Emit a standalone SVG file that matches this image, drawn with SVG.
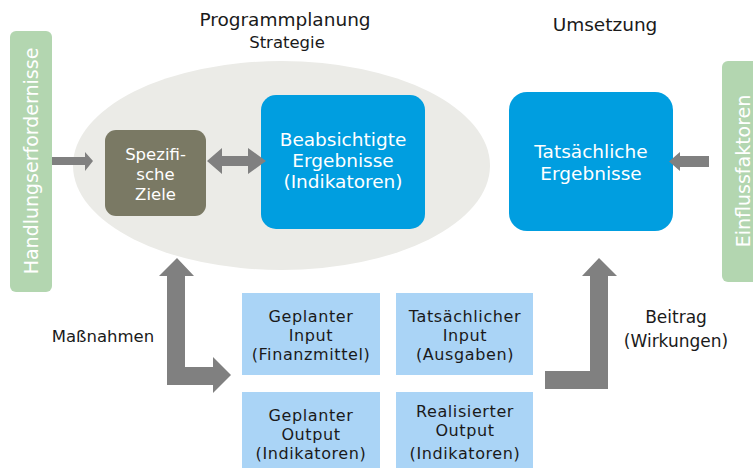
<svg xmlns="http://www.w3.org/2000/svg" width="753" height="468" viewBox="0 0 753 468">
<style>
text{font-family:"DejaVu Sans","Liberation Sans",sans-serif;text-anchor:middle}
.h{font-size:18.5px;fill:#1a1a1a}
.w{fill:#ffffff}
.d{fill:#1a1a1a;font-size:17px}
.bx{fill:#1a1a1a;font-size:16px;letter-spacing:0.6px}
.arr{fill:#808080}
.lb{fill:#aad4f6}
.bl{fill:#009ee0}
.gr{fill:#b3d6b0}
</style>
<rect width="753" height="468" fill="#ffffff"/>
<g id="titles">
<text class="h" x="285" y="26">Programmplanung</text>
<text class="h" x="287" y="48" style="font-size:16.5px">Strategie</text>
<text class="h" x="605" y="31">Umsetzung</text>
</g>
<g id="strategie">
<ellipse cx="281.5" cy="165.5" rx="208.5" ry="104.5" fill="#ebebe7"/>
</g>
<g id="handlungserfordernisse">
<rect class="gr" x="10" y="31" width="42" height="261" rx="6"/>
<text class="w" transform="translate(38,161) rotate(-90)" style="font-size:19px">Handlungserfordernisse</text>
</g>
<g id="einflussfaktoren">
<rect class="gr" x="722" y="61" width="45" height="221" rx="6"/>
<text class="w" transform="translate(750,171) rotate(-90)" style="font-size:19px">Einflussfaktoren</text>
</g>
<g id="spezifische-ziele">
<rect x="105" y="130" width="101" height="86" rx="11" fill="#7a7964"/>
<text class="w" style="font-size:16.5px"><tspan x="155.5" y="160">Spezifi-</tspan><tspan x="155.5" y="180">sche</tspan><tspan x="155.5" y="200">Ziele</tspan></text>
</g>
<g id="beabsichtigte-ergebnisse">
<rect class="bl" x="261" y="95" width="164" height="134" rx="15"/>
<text class="w" style="font-size:18.5px"><tspan x="343" y="146">Beabsichtigte</tspan><tspan x="343" y="167">Ergebnisse</tspan><tspan x="343" y="188">(Indikatoren)</tspan></text>
</g>
<g id="tatsaechliche-ergebnisse">
<rect class="bl" x="509" y="92" width="164" height="139" rx="18"/>
<text class="w" style="font-size:18.5px"><tspan x="591" y="158">Tatsächliche</tspan><tspan x="591" y="180">Ergebnisse</tspan></text>
</g>
<g id="geplanter-input">
<rect class="lb" x="242" y="293" width="138" height="82"/>
<text class="bx"><tspan x="311" y="322">Geplanter</tspan><tspan x="311" y="341">Input</tspan><tspan x="311" y="360">(Finanzmittel)</tspan></text>
</g>
<g id="tatsaechlicher-input">
<rect class="lb" x="396" y="293" width="137" height="82"/>
<text class="bx"><tspan x="465" y="322">Tatsächlicher</tspan><tspan x="465" y="341">Input</tspan><tspan x="465" y="360">(Ausgaben)</tspan></text>
</g>
<g id="geplanter-output">
<rect class="lb" x="242" y="392" width="138" height="80"/>
<text class="bx"><tspan x="311" y="421">Geplanter</tspan><tspan x="311" y="440">Output</tspan><tspan x="311" y="459">(Indikatoren)</tspan></text>
</g>
<g id="realisierter-output">
<rect class="lb" x="396" y="392" width="137" height="80"/>
<text class="bx"><tspan x="465" y="417">Realisierter</tspan><tspan x="465" y="436">Output</tspan><tspan x="465" y="459">(Indikatoren)</tspan></text>
</g>
<g id="connectors">
<polygon class="arr" points="52,157 85,157 85,152 93,161 85,171 85,165 52,165"/>
<polygon class="arr" points="207,161 222,148 222,156 248,156 248,148 266,161 248,174 248,166 222,166 222,174"/>
<polygon class="arr" points="669,161.5 680,152 680,156 709,156 709,167 680,167 680,171"/>
<polygon class="arr" points="177,258 194,276 185,276 185,367 213,367 213,357 231,375 213,393 213,385 167,385 167,276 159,276"/>
<polygon class="arr" points="545,371 590,371 590,276 582,276 599,258 617,276 608,276 608,389 545,389"/>
<text class="d" x="103" y="342" style="font-size:16.5px">Maßnahmen</text>
<text class="d"><tspan x="676" y="323">Beitrag</tspan><tspan x="676" y="347">(Wirkungen)</tspan></text>
</g>
</svg>
